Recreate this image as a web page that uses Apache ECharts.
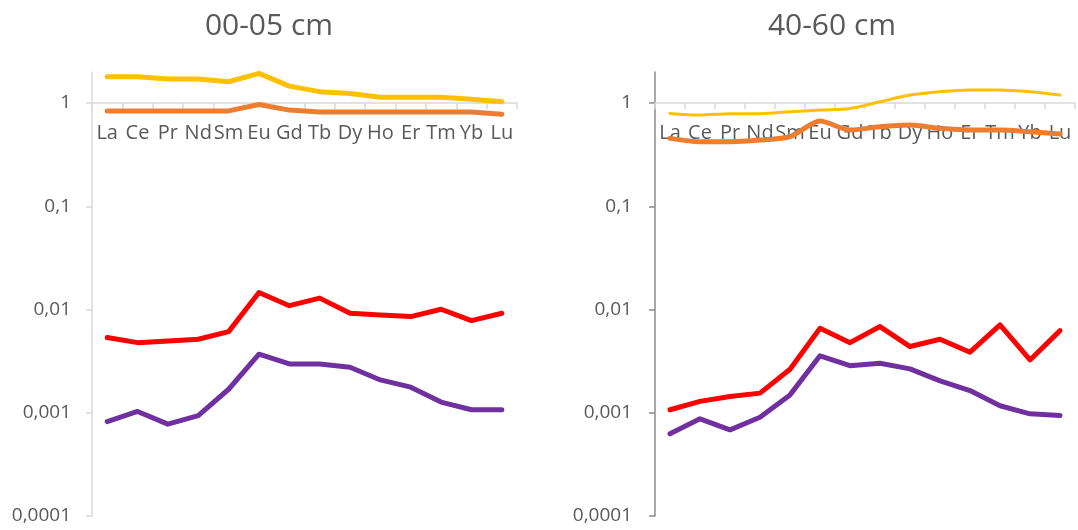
<!DOCTYPE html>
<html>
<head>
<meta charset="utf-8">
<script src="https://cdn.jsdelivr.net/npm/echarts@6/dist/echarts.min.js"></script>
<style>
html,body{margin:0;padding:0;background:#fff;}
#chart{width:1078px;height:530px;}
</style>
</head>
<body>
<div id="chart"></div>
<script>
// ---- Data ----
const categories = ['La','Ce','Pr','Nd','Sm','Eu','Gd','Tb','Dy','Ho','Er','Tm','Yb','Lu'];
const titles = ['00-05 cm', '40-60 cm'];
const yTickValues = [1, 0.1, 0.01, 0.001, 0.0001];
const yTickLabels = ['1', '0,1', '0,01', '0,001', '0,0001'];

// 00-05 cm
const left_yellow = [1.80,1.80,1.71,1.71,1.61,1.94,1.46,1.29,1.24,1.14,1.14,1.14,1.09,1.03];
const left_orange = [0.84,0.84,0.84,0.84,0.84,0.97,0.855,0.82,0.82,0.82,0.82,0.82,0.82,0.78];
const left_red    = [0.00535,0.00478,0.00497,0.00516,0.00611,0.0146,0.0109,0.0129,0.0092,0.00887,0.00854,0.01006,0.00781,0.0092];
const left_purple = [0.000822,0.00103,0.000776,0.00094,0.00169,0.00369,0.00297,0.00297,0.00276,0.00208,0.00177,0.00127,0.00107,0.00107];

// 40-60 cm
const right_yellow = [0.794,0.765,0.79,0.79,0.824,0.856,0.888,1.03,1.195,1.29,1.34,1.34,1.29,1.195];
const right_orange = [0.455,0.422,0.422,0.438,0.472,0.669,0.548,0.59,0.612,0.569,0.548,0.548,0.528,0.501];
const right_red    = [0.00107,0.00129,0.00144,0.00155,0.00264,0.00659,0.00478,0.00684,0.00438,0.00516,0.00386,0.0071,0.00325,0.00625];
const right_purple = [0.000625,0.000873,0.000683,0.000906,0.00149,0.00356,0.00286,0.00302,0.00266,0.00204,0.00164,0.00117,0.000976,0.00094];

// ---- Style ----
const FONT = 'Open Sans';
const TEXT = '#595959';
const C_YEL = '#FFC000', C_ORA = '#ED7D31', C_RED = '#FF0000', C_PUR = '#7030A0';
const Y_MIN = 0.0001, Y_MAX = 2;
const GRID_TOP = 72, GRID_H = 444;
// offset to move the category axis up to the value 1
const X_OFFSET = -GRID_H * (0 - Math.log10(Y_MIN)) / (Math.log10(Y_MAX) - Math.log10(Y_MIN));

function yLabel(v){
  for (let i = 0; i < yTickValues.length; i++) {
    if (Math.abs(Math.log10(v) - Math.log10(yTickValues[i])) < 1e-6) return yTickLabels[i];
  }
  return '';
}

function xAxisDef(gi){
  return {
    type: 'category', gridIndex: gi, data: categories, position: 'bottom',
    offset: X_OFFSET,
    boundaryGap: true,
    axisLine: {onZero: false, lineStyle: {color: '#d9d9d9', width: 1.5}},
    axisTick: {show: true, inside: false, length: 6, lineStyle: {color: '#d9d9d9', width: 1.5}},
    axisLabel: {color: TEXT, fontFamily: FONT, fontSize: 20, margin: 20, interval: 0},
    splitLine: {show: false}
  };
}
function yAxisDef(gi, lineColor, margin){
  return {
    type: 'log', logBase: 10, gridIndex: gi, min: Y_MIN, max: Y_MAX,
    axisLine: {show: true, lineStyle: {color: lineColor, width: 1.5}},
    axisTick: {show: true, length: 6, customValues: yTickValues, lineStyle: {color: lineColor, width: 1.5}},
    axisLabel: {color: TEXT, fontFamily: FONT, fontSize: 19, margin: margin, customValues: yTickValues, formatter: yLabel},
    splitLine: {show: false}, minorTick: {show: false}
  };
}
function lineDef(gi, data, color, width, smooth){
  return {
    type: 'line', xAxisIndex: gi, yAxisIndex: gi, data: data,
    symbol: 'none', smooth: smooth || false,
    lineStyle: {color: color, width: width, cap: 'round', join: 'round'},
    itemStyle: {color: color}, silent: true
  };
}

const chart = echarts.init(document.getElementById('chart'), null, {renderer: 'canvas'});
chart.setOption({
  backgroundColor: '#ffffff',
  animation: false,
  title: [
    {text: titles[0], left: 264, top: 21, textAlign: 'center', textVerticalAlign: 'middle',
     textStyle: {fontFamily: FONT, fontSize: 30, fontWeight: 'normal', color: TEXT}},
    {text: titles[1], left: 827, top: 21, textAlign: 'center', textVerticalAlign: 'middle',
     textStyle: {fontFamily: FONT, fontSize: 30, fontWeight: 'normal', color: TEXT}}
  ],
  grid: [
    {left: 92, top: GRID_TOP, width: 425, height: GRID_H, containLabel: false},
    {left: 655, top: GRID_TOP, width: 420, height: GRID_H, containLabel: false}
  ],
  xAxis: [xAxisDef(0), xAxisDef(1)],
  yAxis: [yAxisDef(0, '#d9d9d9', 21), yAxisDef(1, '#8c8c8c', 23)],
  series: [
    lineDef(0, left_yellow, C_YEL, 5),
    lineDef(0, left_orange, C_ORA, 5),
    lineDef(0, left_red, C_RED, 5),
    lineDef(0, left_purple, C_PUR, 5),
    lineDef(1, right_yellow, C_YEL, 3, 0.35),
    lineDef(1, right_orange, C_ORA, 5, 0.25),
    lineDef(1, right_red, C_RED, 5),
    lineDef(1, right_purple, C_PUR, 5)
  ]
});
</script>
</body>
</html>
